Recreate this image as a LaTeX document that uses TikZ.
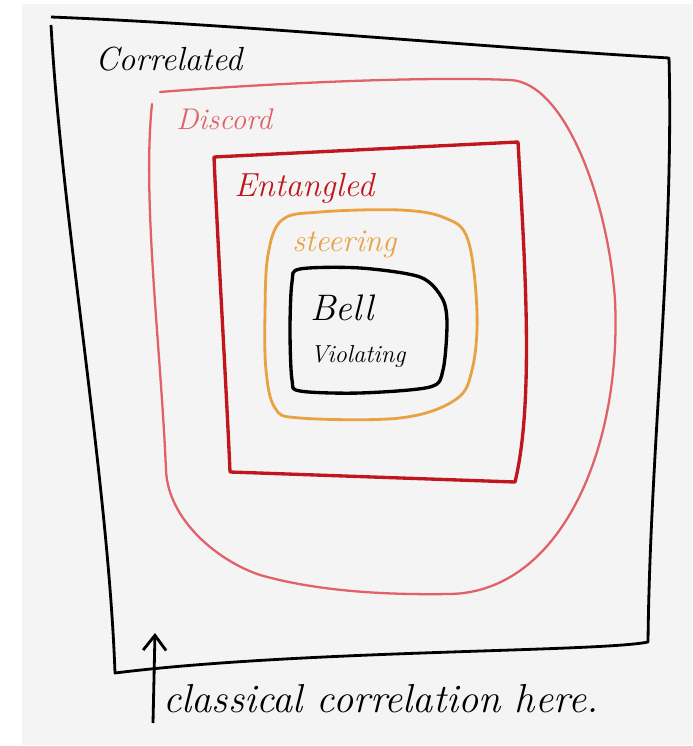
\documentclass[tikz,border=0pt]{standalone}
\usepackage{tikz}
\usetikzlibrary{arrows.meta}
\definecolor{discordred}{RGB}{224,98,104}
\definecolor{entred}{RGB}{192,22,30}
\definecolor{steerorange}{RGB}{232,162,66}
\definecolor{paper}{RGB}{244,244,244}

\begin{document}
\begin{tikzpicture}[x=0.02cm,y=-0.02cm,
	outerline/.style={line width=1.6pt,black,line join=round},
	discordline/.style={line width=1.3pt,discordred,line cap=round},
	entline/.style={line width=1.9pt,entred,line join=round},
	steerline/.style={line width=1.6pt,steerorange},
	bellline/.style={line width=1.9pt,black},
	hand/.style={anchor=base west,inner sep=0pt,font=\itshape}]
	\useasboundingbox[fill=white] (0,0) rectangle (692,746);
	\fill[paper] (22,4) rectangle (692,745);

	\draw[outerline] (51,17) .. controls (250,25) and (450,45) .. (669,58)
		.. controls (674,250) and (650,450) .. (648,642)
		.. controls (600,652) and (300,650) .. (115,673)
		.. controls (108,480) and (62,220) .. (51,25);
	\draw[discordline] (160,92) .. controls (260,84) and (420,76) .. (510,80)
		.. controls (565,82) and (608,200) .. (615,300)
		.. controls (622,450) and (560,592) .. (450,594)
		.. controls (390,595) and (320,592) .. (260,575)
		.. controls (218,561) and (168,520) .. (166,470)
		.. controls (161,350) and (142,200) .. (152,104);
	\draw[entline] (214,157) -- (518,142) .. controls (524,250) and (535,400) .. (515,482) -- (230,472) .. controls (226,380) and (218,250) .. cycle;
	\draw[steerline] plot[smooth cycle,tension=0.6] coordinates {(282,220) (320,212) (400,210) (445,218) (468,240) (477,313) (472,370) (455,400) (400,418) (300,418) (275,408) (266,370) (265,313) (268,255)};
	\draw[bellline] plot[smooth cycle,tension=0.5] coordinates {(300,269) (360,268) (420,277) (442,298) (447,323) (443,370) (430,387) (360,393) (300,391) (292,380) (290,330) (292,282)};

	\begin{scope}[every node/.style={hand}]
	\node[font=\itshape\fontsize{19}{22}\selectfont] (C) at (95,71) {Correlated};
	\node[discordred,font=\itshape\fontsize{17}{20}\selectfont] (D) at (176,130) {Discord};
	\node[entred,font=\itshape\fontsize{19}{22}\selectfont] (E) at (234,197) {Entangled};
	\node[steerorange,font=\itshape\fontsize{18}{21}\selectfont] (S) at (292,252) {steering};
	\node[font=\itshape\fontsize{21}{24}\selectfont] (B1) at (310,320) {Bell};
	\node[font=\itshape\fontsize{14}{17}\selectfont] (B2) at (310,362) {Violating};
	\node[font=\itshape\fontsize{23}{27}\selectfont] (T) at (163,712) {classical correlation here.};
	\end{scope}

	\coordinate (tail) at (153,723);
	\coordinate (tip) at (155,633);
	\draw[line width=1.6pt,-{Straight Barb[length=0.3cm,width=0.46cm]}] (tail) -- (tip);
\end{tikzpicture}
\end{document}
